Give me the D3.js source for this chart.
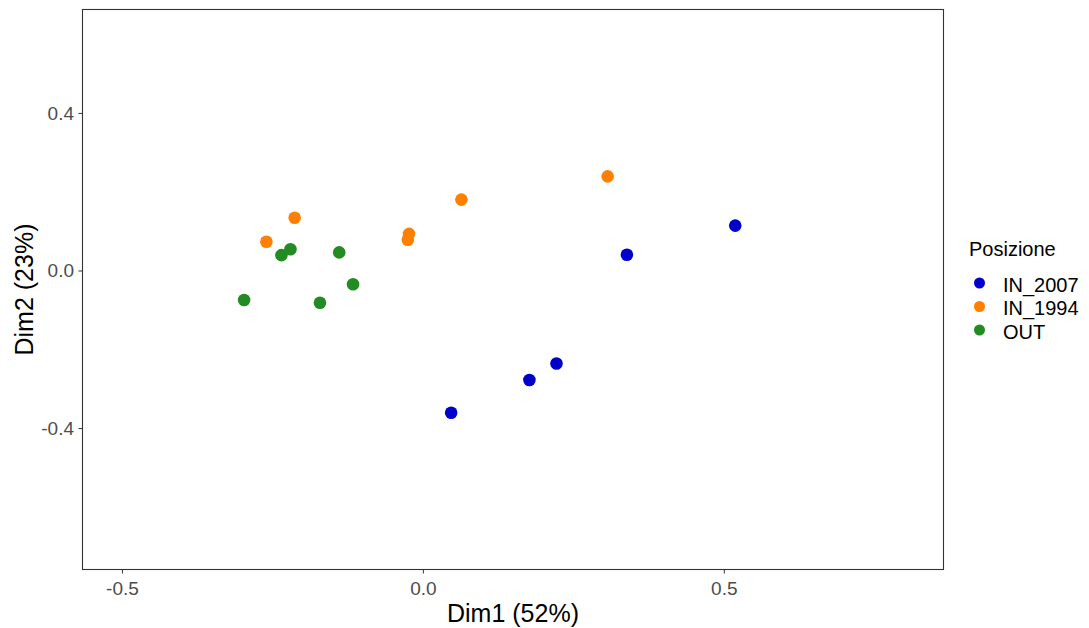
<!DOCTYPE html>
<html>
<head>
<meta charset="utf-8">
<script src="https://cdn.jsdelivr.net/npm/d3@7"></script>
<style>
  body { margin: 0; background: #fff; }
  text { font-family: "Liberation Sans", Arial, sans-serif; }
</style>
</head>
<body>
<script>
// gruppi e coordinate
const groups = ["IN_2007", "IN_1994", "OUT"];
const groupColors = ["#0000CD", "#FF8000", "#228B22"];

const in2007Dim1 = [0.519, 0.339, 0.222, 0.177, 0.047];
const in2007Dim2 = [0.114, 0.040, -0.236, -0.278, -0.361];

const in1994Dim1 = [-0.260, -0.213, -0.023, -0.025, 0.064, 0.307];
const in1994Dim2 = [0.073, 0.134, 0.093, 0.078, 0.180, 0.239];

const outDim1 = [-0.235, -0.220, -0.139, -0.297, -0.171, -0.116];
const outDim2 = [0.039, 0.054, 0.046, -0.075, -0.082, -0.035];

const xTicks = [-0.5, 0.0, 0.5];
const yTicks = [-0.4, 0.0, 0.4];

const points = [];
in2007Dim1.forEach((d, i) => points.push({ g: "IN_2007", x: d, y: in2007Dim2[i] }));
in1994Dim1.forEach((d, i) => points.push({ g: "IN_1994", x: d, y: in1994Dim2[i] }));
outDim1.forEach((d, i) => points.push({ g: "OUT", x: d, y: outDim2[i] }));

const width = 1089, height = 628;
const pLeft = 82.5, pRight = 943.5, pTop = 9.5, pBottom = 569.5;

const svg = d3.select("body").append("svg")
    .attr("width", width)
    .attr("height", height);

const x = d3.scaleLinear().domain([-0.5655, 0.865]).range([pLeft, pRight]);
const y = d3.scaleLinear().domain([-0.759, 0.6625]).range([pBottom, pTop]);
const color = d3.scaleOrdinal().domain(groups).range(groupColors);

// assi
const fmt = d => d3.format(".1f")(d).replace("−", "-");
const xAxis = svg.append("g")
    .attr("transform", "translate(0," + pBottom + ")")
    .call(d3.axisBottom(x).tickValues(xTicks).tickFormat(fmt).tickSize(4).tickPadding(8));
const yAxis = svg.append("g")
    .attr("transform", "translate(" + pLeft + ",0)")
    .call(d3.axisLeft(y).tickValues(yTicks).tickFormat(fmt).tickSize(4).tickPadding(4.5));

[xAxis, yAxis].forEach(a => {
    a.select(".domain").remove();
    a.selectAll(".tick line").attr("stroke", "#333333").attr("stroke-width", 1);
    a.selectAll(".tick text")
        .attr("fill", "#4D4D4D")
        .style("font-size", "19px")
        .style("font-family", "'Liberation Sans', Arial, sans-serif");
});

// punti
svg.append("g").selectAll("circle")
    .data(points)
    .enter().append("circle")
    .attr("cx", d => x(d.x))
    .attr("cy", d => y(d.y))
    .attr("r", 6.3)
    .attr("fill", d => color(d.g));

// bordo del pannello
svg.append("rect")
    .attr("x", pLeft).attr("y", pTop)
    .attr("width", pRight - pLeft).attr("height", pBottom - pTop)
    .attr("fill", "none")
    .attr("stroke", "#333333")
    .attr("stroke-width", 1.1);

// titoli assi
svg.append("text")
    .attr("x", (pLeft + pRight) / 2)
    .attr("y", 622)
    .attr("text-anchor", "middle")
    .style("font-size", "25px")
    .text("Dim1 (52%)");

svg.append("text")
    .attr("transform", "translate(33," + (pTop + pBottom) / 2 + ") rotate(-90)")
    .attr("text-anchor", "middle")
    .style("font-size", "25px")
    .text("Dim2 (23%)");

// legenda
const legend = svg.append("g").attr("transform", "translate(969,0)");
legend.append("text")
    .attr("x", 0).attr("y", 256)
    .style("font-size", "20px")
    .text("Posizione");

const item = legend.selectAll(".item")
    .data(groups)
    .enter().append("g")
    .attr("transform", (d, i) => "translate(0," + (283 + i * 23.5) + ")");
item.append("circle")
    .attr("cx", 10.5).attr("cy", 0).attr("r", 5.5)
    .attr("fill", d => color(d));
item.append("text")
    .attr("x", 34).attr("y", 8.5)
    .style("font-size", "20px")
    .text(d => d);
</script>
</body>
</html>
